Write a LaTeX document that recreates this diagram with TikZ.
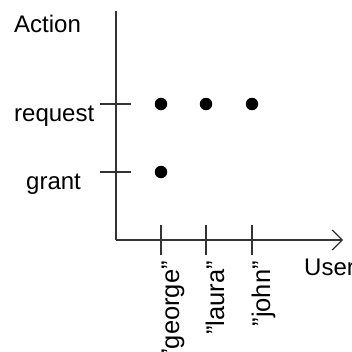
\documentclass[tikz,border=0pt]{standalone}
\usepackage{fontspec}
\setmainfont{Liberation Sans}
\usetikzlibrary{arrows.meta,positioning}
\definecolor{axisgray}{RGB}{51,51,51}

\begin{document}
\begin{tikzpicture}[x=1pt, y=-1pt,
    axis/.style={draw=axisgray, line width=1.2pt},
    dot/.style={circle, fill=black, inner sep=0pt, minimum size=12.5pt},
    lbl/.style={font=\fontsize{24}{28}\selectfont, inner sep=0pt, anchor=base west},
    userlbl/.style={font=\fontsize{25.5}{30}\selectfont, inner sep=0pt, rotate=90, anchor=base east}]
    \useasboundingbox (0,0) rectangle (352,351);
    % axes
    \coordinate (origin) at (116,240);
    \coordinate (ytop) at (116,11);
    \coordinate (xend) at (343,240);
    \draw[axis] (ytop) -- (origin);
    \draw[axis, -{Straight Barb[length=10pt, width=20pt]}] (origin) -- (xend);
    \node[lbl] (action) at (14,32) {Action};
    \node[lbl] (user) at (304,275) {User};
    % action ticks
    \foreach \y/\name/\txt/\lx in {104/request/request/14, 172/grant/grant/26} {
        \coordinate (\name-l) at (100,\y);
        \coordinate (\name-r) at (131,\y);
        \draw[axis] (\name-l) -- (\name-r);
        \node[lbl] (\name-lbl) at (\lx,\y+17) {\txt};
    }
    % user ticks
    \foreach \x/\name in {161/george, 206/laura, 252/john} {
        \coordinate (\name-t) at (\x,225);
        \coordinate (\name-b) at (\x,255);
        \draw[axis] (\name-t) -- (\name-b);
        \node[userlbl] (\name-lbl) at (\x+18,261) {"\name"};
    }
    % events
    \node[dot] (req-george) at (161,104) {};
    \node[dot] (req-laura) at (206,104) {};
    \node[dot] (req-john) at (252,104) {};
    \node[dot] (grant-george) at (161,172) {};
\end{tikzpicture}
\end{document}
